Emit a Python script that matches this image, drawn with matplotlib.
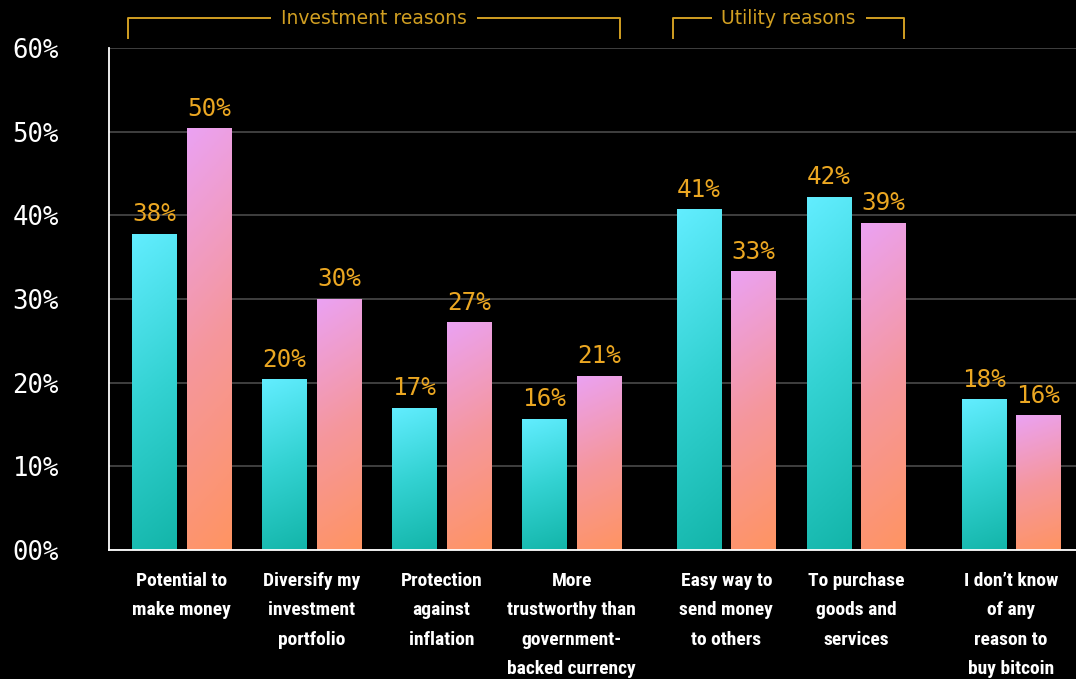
import numpy as np
import matplotlib
matplotlib.use("Agg")
import matplotlib.pyplot as plt
import matplotlib.transforms as mtransforms
from matplotlib.colors import LinearSegmentedColormap

categories = ["Potential to\nmake money",
              "Diversify my\ninvestment\nportfolio",
              "Protection\nagainst\ninflation",
              "More\ntrustworthy than\ngovernment-\nbacked currency",
              "Easy way to\nsend money\nto others",
              "To purchase\ngoods and\nservices",
              "I don\u2019t know\nof any\nreason to\nbuy bitcoin"]
series_a = [37.8, 20.4, 17.0, 15.7, 40.7, 42.2, 18.0]
series_b = [50.4, 30.0, 27.2, 20.8, 33.3, 39.1, 16.1]
yticks = [0, 10, 20, 30, 40, 50, 60]
groups = [("Investment reasons", 0, 3), ("Utility reasons", 4, 5)]

pos = np.array([0, 1, 2, 3, 4.19, 5.19, 6.38])
w = 0.34
off = 0.21

bg = "black"
label_col = "#EBA722"
bracket_col = "#D19F22"
mono = ["DejaVu Sans Mono"]
narrow = ["Roboto Condensed", "Open Sans Condensed", "Liberation Sans Narrow", "Roboto"]

cmap_a = LinearSegmentedColormap.from_list("a", ["#13B5A9", "#33D2D2", "#62EDFF"])
cmap_b = LinearSegmentedColormap.from_list("b", ["#FF9462", "#F5979E", "#EBA2F3"])

fig = plt.figure(figsize=(10.76, 6.79), dpi=100, facecolor=bg)
ax = fig.add_axes([109/1076, 1-550/679, 1-109/1076, 502/679], facecolor=bg)


def grad_bars(xs, vals, cmap):
    bars = ax.bar(xs, vals, w, facecolor="none", edgecolor="none", zorder=3)
    for b, v in zip(bars, vals):
        x0 = b.get_x()
        gy = np.linspace(0, 1, 200)[:, None]
        gx = np.linspace(0, 1, 20)[None, :]
        g = np.clip(gy * 0.9 + (1 - gx) * 0.1, 0, 1)
        im = ax.imshow(g, cmap=cmap, origin="lower", aspect="auto",
                       extent=[x0, x0 + w, 0, v], zorder=3, vmin=0, vmax=1)
        im.set_clip_path(b)
        ax.text(x0 + w/2, v + 0.9, f"{round(v)}%", ha="center", va="bottom",
                color=label_col, fontsize=17.5, family=mono, zorder=4)
    return bars


grad_bars(pos - off, series_a, cmap_a)
grad_bars(pos + off, series_b, cmap_b)

ax.set_xlim(-0.558, 6.88)
ax.set_ylim(0, 60)
ax.set_yticks(yticks)
ax.set_yticklabels([f"{v:02d}%" for v in yticks])
ax.set_xticks(pos)
ax.set_xticklabels(categories, family=narrow, fontweight="bold", fontsize=14,
                   color="white", linespacing=1.8, va="top")
ax.tick_params(axis="x", length=0, pad=16)
ax.tick_params(axis="y", length=0, pad=36, labelcolor="white", labelsize=18.5)
for t in ax.get_yticklabels():
    t.set_family(mono)
ax.grid(axis="y", color="#4a4a4a", lw=1.2, zorder=0)
for s in ["top", "right"]:
    ax.spines[s].set_visible(False)
for s in ["left", "bottom"]:
    ax.spines[s].set_color("white")
    ax.spines[s].set_linewidth(1.3)
    ax.spines[s].set_zorder(5)

trans = mtransforms.blended_transform_factory(ax.transData, ax.transAxes)
for name, i0, i1 in groups:
    x0 = pos[i0] - off - w/2 - 0.03
    x1 = pos[i1] + off + w/2 - 0.01
    yh = 1 + 30/502
    yl = 1 + 10/502
    ax.plot([x0, x0, x1, x1], [yl, yh, yh, yl], color=bracket_col, lw=1.4,
            transform=trans, clip_on=False)
    ax.text((x0 + x1)/2, yh, name, ha="center", va="center", color=bracket_col,
            fontsize=13.5, family=["DejaVu Sans"], transform=trans,
            bbox=dict(facecolor=bg, edgecolor="none", pad=7))

fig.savefig("out.png", dpi=100, facecolor=bg)
